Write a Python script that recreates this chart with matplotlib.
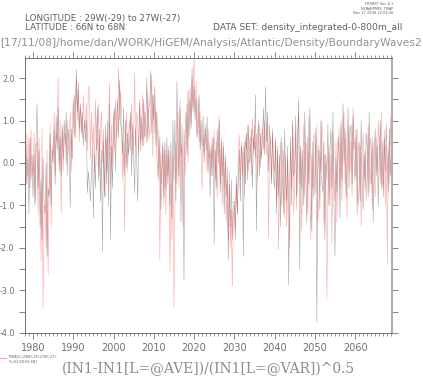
import numpy as np
import matplotlib
matplotlib.use("Agg")
import matplotlib.pyplot as plt
from matplotlib.ticker import MultipleLocator

# quarterly samples, 1978.0 .. 2069.0
start_year = 1978.0
step = 0.25

black_vals = [
    -0.2, 0.3, -0.5, 0.1,   -1.2, 0.6, -0.4, 0.2,   -0.8, 0.2, -1.0, 0.5,   1.4, -0.6, 0.3, -1.5,
    -0.4, -1.8, 0.1, -0.9,  -1.2, 0.0, -2.2, -0.6,  -0.8, 0.7, -1.0, 0.3,   0.0, 0.8, -0.5, 1.1,
    0.3, 1.3, -0.2, 0.6,    -0.3, 0.9, 0.1, 1.0,    0.4, 1.2, -0.3, 0.8,    0.5, -1.05, 0.8, 0.1,
    1.0, 1.6, 0.6, 2.2,     1.2, 1.9, 0.8, 1.4,     0.7, 1.2, 0.4, 1.0,     0.5, 1.0, -0.7, -0.2,
    -0.5, -0.9, -0.3, 0.4,  -1.3, 0.2, -0.6, 0.6,   1.3, -0.4, 0.8, -0.9,   0.3, -2.1, 0.5, -0.8,
    0.9, -0.5, 1.0, -1.0,   1.4, -1.8, 0.4, -0.6,   0.8, 1.3, -0.2, 1.0,    1.5, 0.6, 1.96, 0.9,
    0.8, 0.2, 1.3, -0.3,    1.0, -0.1, 0.7, 0.2,    0.5, 1.2, -0.3, 0.9,    0.2, -0.7, 0.8, 0.1,
    -0.9, 0.5, 1.4, 0.3,    1.1, 0.4, 1.5, 0.6,     0.8, 2.0, 0.5, 1.3,     1.4, 2.16, 0.7, 1.6,
    1.0, 1.8, 0.4, 1.2,     0.5, -0.4, 0.6, -1.1,   -0.2, 0.4, -0.8, 0.5,   -0.6, 0.6, -0.5, 0.3,
    -1.0, 0.5, -1.3, 1.0,   -0.4, 1.0, -0.9, 1.92,  0.6, -0.3, 1.3, -1.4,   0.9, -0.5, -2.75, 0.6,
    1.2, 0.2, 1.7, 0.6,     1.5, 0.8, 2.23, 1.2,    1.8, 1.0, 1.5, 0.6,     0.9, 1.6, 0.3, 1.0,
    0.4, 1.1, 0.0, 0.8,     0.3, 1.08, -0.2, 0.5,   -0.8, 0.4, -0.3, 0.6,   -1.9, 0.3, -0.6, 0.8,
    0.0, 1.0, -0.7, 0.5,    -0.3, 0.4, -1.2, 0.2,   -0.8, -0.1, -2.3, -0.5, -1.5, -0.4, -1.8, -0.9,
    -0.9, -1.8, -0.3, -1.2, -0.4, 0.3, -0.9, 0.4,   0.2, -2.2, 0.5, -0.5,   0.7, -0.4, 0.9, 0.0,
    0.1, 0.8, -0.6, 0.6,    0.3, 1.6, -1.6, 0.5,    1.0, -0.3, 0.7, 0.1,    0.6, 1.3, 0.2, 1.8,
    0.5, 1.2, -0.2, 0.9,    0.4, -0.5, 0.8, -0.3,   -0.6, 0.5, -1.2, 0.3,   -0.8, 0.2, -1.5, 0.6,
    0.1, -1.2, 0.8, -0.4,   -0.9, 0.4, -2.87, -0.5, 0.6, -1.0, 1.0, -0.3,   -0.2, 1.1, -0.8, 0.5,
    1.5, -2.5, 0.4, -0.6,   0.3, -1.0, 1.2, -0.2,   -1.4, 0.6, -0.5, 1.3,   0.2, -1.6, 0.5, -0.8,
    -0.3, 0.8, -3.75, -0.2, 0.4, -1.1, 1.0, -0.5,   -0.7, 0.5, -1.8, 0.2,   -0.4, 0.9, -1.0, 0.3,
    0.8, -0.6, 1.2, -0.9,   -2.2, 0.1, -0.7, 0.6,   0.3, -1.3, 0.9, -0.4,   1.4, 0.0, 0.8, -0.8,
    -0.2, 1.3, -0.6, 0.7,   0.9, -0.5, 1.1, 0.0,    -0.4, 0.8, -1.2, 0.3,   0.5, -0.9, 1.0, -0.4,
    -1.1, 0.2, -0.6, 0.7,   0.4, -0.8, 1.2, -0.3,   -0.5, 0.6, -1.4, 0.1,   0.8, -0.3, 0.4, -1.0,
    0.2, 1.0, -0.6, 0.5,    -0.8, 0.6, -0.2, 0.9,   0.1, -0.7, 0.8, -0.3,   0.3,
]

red_vals = [
    0.2, -0.5, 0.7, -0.3,   0.6, -0.6, 0.8, 0.0,    -0.3, 0.7, -0.9, 0.4,   0.5, -1.2, 0.6, -0.5,
    -2.3, 0.8, -3.45, -1.0, -1.0, -2.0, 0.3, -2.65, -0.5, 0.9, -1.5, 0.4,   0.2, 1.2, -0.3, 0.7,
    0.5, 2.0, 0.0, 1.0,     -1.2, 0.8, -0.2, 0.6,   0.7, 0.0, 1.0, 0.2,     0.6, 1.2, -0.2, 0.9,
    1.5, 0.6, 1.3, 2.0,     1.0, 1.7, 0.5, 1.3,     1.1, 0.6, 1.6, 0.9,     0.8, 1.4, 0.3, 1.8,
    1.76, 0.1, 1.2, 0.4,    0.9, -0.2, 1.5, 0.3,    0.5, 1.4, -0.3, 0.9,    1.2, 0.0, 0.8, -0.6,
    -0.8, 0.6, -0.2, 1.0,   1.88, -0.5, 0.9, 0.0,   1.2, 0.3, 1.5, 0.6,     0.8, 2.23, 1.0, 1.7,
    1.2, -0.4, 0.5, -1.6,   0.5, 1.2, -0.2, 0.7,    1.0, 0.3, 1.4, 0.2,     0.6, 2.13, 0.4, 1.2,
    0.9, 0.2, 1.5, 0.5,     0.7, 1.6, 0.4, 1.2,     1.0, 0.5, 1.7, 0.9,     0.6, 1.4, 2.08, 0.15,
    1.6, 0.7, 1.3, 0.2,     -0.3, 0.8, -2.3, 0.2,   -0.5, 0.5, -1.0, 0.3,   -1.2, 0.2, -0.3, 0.4,
    -2.55, -0.5, -1.8, 0.2, -3.4, -1.0, 0.5, -0.5,  1.2, -0.6, 1.5, 0.2,    0.4, -1.5, 0.8, -0.3,
    0.5, 1.4, 0.0, 1.1,     1.8, 0.9, 2.0, 1.3,     2.47, 1.2, 1.9, 0.7,    1.5, 0.5, 1.2, 0.3,
    -0.65, 0.6, 0.2, 0.9,   0.5, -0.2, 0.8, 0.1,    0.3, -0.3, 0.6, -0.1,   0.77, -0.4, 0.5, -0.8,
    0.3, 1.1, -0.5, 0.6,    -1.0, 0.5, -0.6, 0.1,   -1.4, -0.4, -1.8, -0.2, -2.0, -1.1, -2.9, -1.3,
    -1.0, -1.6, -0.5, -1.2, 0.2, 0.66, -0.4, 0.5,   -0.3, 0.4, -0.8, 0.6,   0.3, 0.9, -0.2, 0.5,
    0.6, -0.3, 1.06, 0.2,   0.9, 0.1, 0.7, -0.4,    0.4, 0.9, -0.1, 0.6,    0.8, 0.3, 1.0, 0.4,
    0.2, 0.9, -1.76, 0.3,   0.6, -0.4, 0.7, 0.0,    -0.2, 0.6, -0.9, 0.4,   -2.05, -0.3, 0.5, -1.0,
    -0.5, 0.3, -1.3, 0.2,   -1.5, 0.1, -0.8, -2.0,  0.3, -0.6, 0.9, -1.2,   -0.4, 0.7, -1.1, 0.8,
    1.2, -0.5, 0.3, -1.6,   -0.2, 0.9, -0.8, 0.5,   0.4, -1.2, 1.1, -0.3,   -1.8, 0.2, -0.6, 0.7,
    0.5, -0.7, 0.9, -1.4,   -0.9, 0.3, -0.2, 1.0,   0.6, -1.5, 0.2, -0.6,   -3.2, -0.8, 0.4, -1.0,
    0.2, -1.9, 0.7, -0.3,   -0.9, 0.5, -1.4, 0.1,   0.8, -0.6, 1.0, -0.9,   0.4, 1.2, -0.5, 0.7,
    -1.3, 0.3, 0.9, -0.2,   0.5, -0.8, 1.3, 0.3,    0.6, -0.3, 0.8, -1.0,   -0.6, 0.4, -1.5, 0.2,
    0.7, -0.4, 0.3, -0.9,   -0.2, 0.9, -0.7, 0.6,   0.3, -1.1, 0.5, -0.4,   -0.8, 0.6, -0.2, 1.0,
    0.4, -0.5, 1.2, -0.3,   -0.6, 0.8, -1.0, 0.4,   -2.4, 0.3, -0.5, 1.1,   0.0,
]

year_ticks = [1980, 1990, 2000, 2010, 2020, 2030, 2040, 2050, 2060]
y_ticks = [-4.0, -3.0, -2.0, -1.0, 0.0, 1.0, 2.0]

t = start_year + step * np.arange(len(black_vals))

fig = plt.figure(figsize=(4.23, 3.77), dpi=100)
ax = fig.add_axes([0.059, 0.117, 0.868, 0.729])

ax.plot(t, black_vals, color="black", lw=0.4, alpha=0.35)
ax.plot(t[:len(red_vals)], red_vals, color="red", lw=0.4, alpha=0.35)

ax.set_xlim(1978.0, 2069.2)
ax.set_ylim(-4.0, 2.47)

grey = "#707070"
ax.set_xticks(year_ticks)
ax.set_xticklabels([str(y) for y in year_ticks])
ax.xaxis.set_minor_locator(MultipleLocator(1))
ax.set_yticks(y_ticks)
ax.set_yticklabels(["%.1f" % v for v in y_ticks])
ax.yaxis.set_minor_locator(MultipleLocator(0.5))

ax.tick_params(axis="x", which="both", direction="out", top=True, bottom=True,
               colors=grey, labelsize=7, pad=3)
ax.tick_params(axis="x", which="major", length=4, width=0.6)
ax.tick_params(axis="x", which="minor", length=2, width=0.5)
ax.tick_params(axis="y", which="both", direction="out", left=True, right=True,
               colors=grey, labelsize=5.8, length=4, width=0.6)
for s in ax.spines.values():
    s.set_color(grey)
    s.set_linewidth(0.7)
ax.spines["right"].set_color("#b0b0b0")
ax.spines["right"].set_linewidth(1.5)

tc = "#606060"
fig.text(25 / 423, 1 - 18 / 377, "LONGITUDE : 29W(-29) to 27W(-27)", fontsize=6.3, color=tc, va="center")
fig.text(25 / 423, 1 - 28 / 377, "LATITUDE : 66N to 68N", fontsize=6.3, color=tc, va="center")
fig.text(213 / 423, 1 - 28 / 377, "DATA SET: density_integrated-0-800m_all", fontsize=6.6, color=tc, va="center")
fig.text(0.0, 1 - 43 / 377,
         "[17/11/08]/home/dan/WORK/HiGEM/Analysis/Atlantic/Density/BoundaryWaves2",
         fontsize=7.65, color="#909090", va="center")
fig.text(393 / 423, 1 - 2 / 377, "FERRET Ver. 6.1\nNOAA/PMEL TMAP\nNov 17 2008 12:04:26",
         fontsize=2.6, color=tc, ha="right", va="top", multialignment="right")

fig.lines.append(plt.Line2D([0.0, 6 / 423], [1 - 358 / 377, 1 - 358 / 377],
                            transform=fig.transFigure, color="red", lw=0.5, alpha=0.6))
fig.text(9 / 423, 1 - 359 / 377, "INDA[X=29W(-29):27W(-27),\nY=63.5N:65.5N]",
         fontsize=2.4, color=tc, va="center")

fig.text(208 / 423, 1 - 369 / 377, "(IN1-IN1[L=@AVE])/(IN1[L=@VAR])^0.5",
         fontsize=10, color="#8a8a8a", family="DejaVu Serif", ha="center", va="center")

fig.savefig("out.png", dpi=100)
